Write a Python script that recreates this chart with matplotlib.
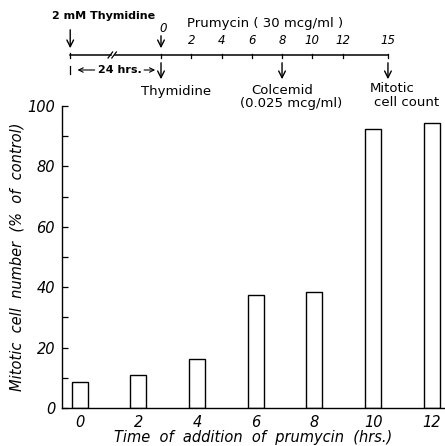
import numpy as np
import matplotlib
matplotlib.use("Agg")
import matplotlib.pyplot as plt

# data
hours = [0, 2, 4, 6, 8, 10, 12]
mitotic_pct = [8.7, 10.9, 16.2, 37.4, 38.5, 92.3, 94.3]

# timeline scheme above the chart
timeline_hours = [0, 2, 4, 6, 8, 10, 12, 15]
timeline_labels = ["0", "2", "4", "6", "8", "10", "12", "15"]

plt.rcParams["font.family"] = ["DejaVu Sans"]

W, H = 445, 446
fig = plt.figure(figsize=(W / 100, H / 100), dpi=100)

# =====================================
# Bar chart
# =====================================
ax = fig.add_axes([62 / W, 1 - 408 / H, (W - 62) / W, (408 - 106) / H])

ax.bar(hours, mitotic_pct, width=0.54, facecolor="white",
       edgecolor="black", linewidth=1.0)

ax.set_xlim(-0.60, 12.45)
ax.set_ylim(0, 100)

ax.spines["top"].set_visible(False)
ax.spines["right"].set_visible(False)
for s in ("left", "bottom"):
    ax.spines[s].set_linewidth(1.0)

ax.set_yticks(np.arange(0, 101, 20))
ax.set_yticks(np.arange(10, 100, 20), minor=True)
ax.tick_params(axis="y", which="both", direction="in", length=4, width=0.9,
               labelsize=10.5, pad=5)
ax.set_xticks(hours)
ax.tick_params(axis="x", length=0, labelsize=10.5, pad=5)
for lab in ax.get_xticklabels() + ax.get_yticklabels():
    lab.set_fontstyle("italic")

ax.set_xlabel("Time  of  addition  of  prumycin  (hrs.)", fontsize=10.5,
              fontstyle="italic", labelpad=0)
ax.set_ylabel("Mitotic  cell  number  (%  of  control)", fontsize=10.5,
              fontstyle="italic", labelpad=2)

# =====================================
# Timeline (hours on x, pixels on y)
# =====================================
px_per_hr = 15.13
x0 = 161
tl = fig.add_axes([0, 0, 1, 1])
tl.set_xlim(-x0 / px_per_hr, (W - x0) / px_per_hr)
tl.set_ylim(H, 0)
tl.axis("off")

ly = 55
start = -6.0
brk = -3.2
tl.plot([start, brk - 0.1], [ly, ly], color="black", lw=1.1)
tl.plot([brk + 0.15, 15], [ly, ly], color="black", lw=1.1)
for dx in (-0.15, 0.1):
    tl.plot([brk + dx - 0.15, brk + dx + 0.15], [ly + 3, ly - 3],
            color="black", lw=0.9)

for h, lab in zip(timeline_hours, timeline_labels):
    tl.plot([h, h], [ly - 1, ly + 3], color="black", lw=0.9)
    if h == 0:
        tl.text(h + 0.15, 29, lab, fontsize=8.5, fontstyle="italic",
                ha="center", va="center")
    else:
        tl.text(h, 40, lab, fontsize=8.5, fontstyle="italic",
                ha="center", va="center")

arrow = dict(arrowstyle="->", color="black", lw=1.0, mutation_scale=12)

# arrows above the line
tl.annotate("", xy=(start, 51), xytext=(start, 27), arrowprops=arrow)
tl.annotate("", xy=(0, 51), xytext=(0, 33), arrowprops=arrow)
tl.plot([start, start], [ly - 2, ly + 3], color="black", lw=0.9)

tl.text(-7.2, 16, "2 mM Thymidine", fontsize=8, fontweight="bold",
        ha="left", va="center")
tl.text(1.7, 23, "Prumycin ( 30 mcg/ml )", fontsize=9.5, ha="left",
        va="center")

# below the line
for h in (0, 8, 15):
    tl.annotate("", xy=(h, 82), xytext=(h, 60), arrowprops=arrow)

tl.plot([start, start], [66, 74], color="black", lw=0.9)
tl.annotate("", xy=(start + 0.3, 70), xytext=(-4.2, 70),
            arrowprops=dict(arrowstyle="->", color="black", lw=0.8,
                            mutation_scale=8))
tl.annotate("", xy=(-0.2, 70), xytext=(-1.3, 70),
            arrowprops=dict(arrowstyle="->", color="black", lw=0.8,
                            mutation_scale=8))
tl.text(-2.7, 70, "24 hrs.", fontsize=8, fontweight="bold",
        ha="center", va="center")

tl.text(1.0, 91, "Thymidine", fontsize=9.5, ha="center", va="center")
tl.text(8.0, 91, "Colcemid", fontsize=9.5, ha="center", va="center")
tl.text(8.6, 104, "(0.025 mcg/ml)", fontsize=9.5, ha="center", va="center")
tl.text(15.3, 89, "Mitotic", fontsize=9.5, ha="center", va="center")
tl.text(16.2, 103, "cell count", fontsize=9.5, ha="center", va="center")

fig.savefig("out.png", dpi=100)
